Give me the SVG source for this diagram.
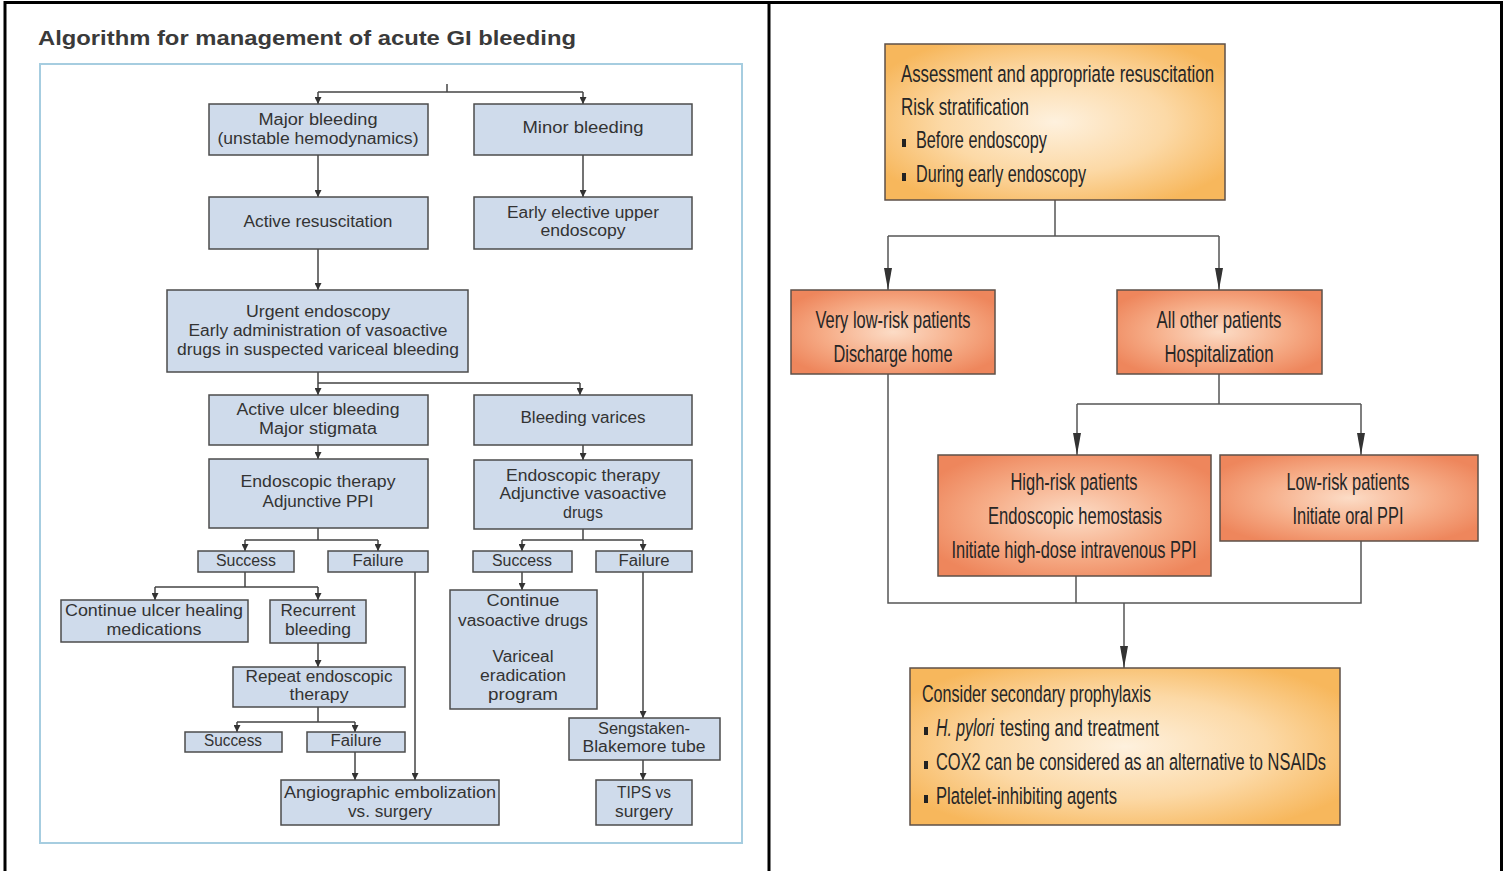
<svg xmlns="http://www.w3.org/2000/svg" width="1506" height="871" viewBox="0 0 1506 871">
<defs>
<style>
.frame{stroke:#000;stroke-width:3;fill:none}
.bf{fill:none;stroke:#a6cde0;stroke-width:2}
.lb{fill:#cfdbeb;stroke:#4c4c4c;stroke-width:1.5}
.lt{font-family:"Liberation Sans",Arial,sans-serif;font-size:16px;fill:#333;text-anchor:middle}
.title{font-family:"Liberation Sans",Arial,sans-serif;font-size:21px;font-weight:bold;fill:#3a3a3a}
.lc{fill:none;stroke:#444;stroke-width:1.5}
.rc{fill:none;stroke:#555;stroke-width:1.5}
.ob{fill:url(#gOr);stroke:#5e5048;stroke-width:1.5}
.sb{fill:url(#gSa);stroke:#5e5048;stroke-width:1.5}
.rt{font-family:"Liberation Sans",Arial,sans-serif;font-size:16.5px;fill:#262626}
.rtm{font-family:"Liberation Sans",Arial,sans-serif;font-size:16.5px;fill:#262626;text-anchor:middle}
.bul{fill:#222}
</style>
<radialGradient id="gOr" cx="0.5" cy="0.5" r="0.6">
<stop offset="0" stop-color="#fef1de"/>
<stop offset="0.55" stop-color="#fcd9a6"/>
<stop offset="1" stop-color="#f7b75c"/>
</radialGradient>
<radialGradient id="gSa" cx="0.5" cy="0.5" r="0.6">
<stop offset="0" stop-color="#fcdcc6"/>
<stop offset="0.55" stop-color="#f6ad88"/>
<stop offset="1" stop-color="#ee865c"/>
</radialGradient>
<marker id="aL" markerUnits="userSpaceOnUse" markerWidth="7" markerHeight="7" viewBox="0 0 7 7" refX="7" refY="3.5" orient="auto">
<path d="M0,0 L7,3.5 L0,7 z" fill="#333"/>
</marker>
<marker id="aR" markerUnits="userSpaceOnUse" markerWidth="22" markerHeight="9" viewBox="0 0 22 9" refX="22" refY="4.5" orient="auto">
<path d="M0,0.5 L22,4.5 L0,8.5 z" fill="#333"/>
</marker>
</defs>
<rect x="0" y="0" width="1506" height="871" fill="#fff"/>
<g id="frame">
<path class="frame" d="M5,871 V2.5 H1501.5 V871 M769,2.5 V871"/>
</g>
<text class="title" x="38" y="45" textLength="538" lengthAdjust="spacingAndGlyphs">Algorithm for management of acute GI bleeding</text>
<rect class="bf" x="40" y="64" width="702" height="779"/>

<g id="connectors-left">
<path class="lc" d="M447,84 V92"/>
<path class="lc" d="M318,92 H583"/>
<path class="lc" d="M318,92 V104" marker-end="url(#aL)"/>
<path class="lc" d="M583,92 V104" marker-end="url(#aL)"/>
<path class="lc" d="M318,155 V197" marker-end="url(#aL)"/>
<path class="lc" d="M583,155 V197" marker-end="url(#aL)"/>
<path class="lc" d="M318,249 V290" marker-end="url(#aL)"/>
<path class="lc" d="M318,372 V383 M318,383 H580"/>
<path class="lc" d="M318,383 V395" marker-end="url(#aL)"/>
<path class="lc" d="M580,383 V395" marker-end="url(#aL)"/>
<path class="lc" d="M318,445 V459" marker-end="url(#aL)"/>
<path class="lc" d="M583,445 V460" marker-end="url(#aL)"/>
<path class="lc" d="M318,528 V540 M245,540 H378"/>
<path class="lc" d="M245,540 V551" marker-end="url(#aL)"/>
<path class="lc" d="M378,540 V551" marker-end="url(#aL)"/>
<path class="lc" d="M583,529 V540 M522,540 H643"/>
<path class="lc" d="M522,540 V551" marker-end="url(#aL)"/>
<path class="lc" d="M643,540 V551" marker-end="url(#aL)"/>
<path class="lc" d="M245,572 V587 M155,587 H318"/>
<path class="lc" d="M155,587 V600" marker-end="url(#aL)"/>
<path class="lc" d="M318,587 V600" marker-end="url(#aL)"/>
<path class="lc" d="M415,572 V780" marker-end="url(#aL)"/>
<path class="lc" d="M318,643 V667" marker-end="url(#aL)"/>
<path class="lc" d="M318,707 V722 M237,722 H355"/>
<path class="lc" d="M237,722 V732" marker-end="url(#aL)"/>
<path class="lc" d="M355,722 V732" marker-end="url(#aL)"/>
<path class="lc" d="M355,752 V780" marker-end="url(#aL)"/>
<path class="lc" d="M522,572 V590" marker-end="url(#aL)"/>
<path class="lc" d="M643,572 V718" marker-end="url(#aL)"/>
<path class="lc" d="M643,760 V780" marker-end="url(#aL)"/>
</g>

<g id="major-bleeding">
<rect class="lb" x="209" y="104" width="219" height="51"/>
<text class="lt" x="318" y="125" textLength="119" lengthAdjust="spacingAndGlyphs">Major bleeding</text>
<text class="lt" x="318" y="144" textLength="201" lengthAdjust="spacingAndGlyphs">(unstable hemodynamics)</text>
</g>
<g id="minor-bleeding">
<rect class="lb" x="474" y="104" width="218" height="51"/>
<text class="lt" x="583" y="133" textLength="121" lengthAdjust="spacingAndGlyphs">Minor bleeding</text>
</g>
<g id="active-resuscitation">
<rect class="lb" x="209" y="197" width="219" height="52"/>
<text class="lt" x="318" y="227" textLength="149" lengthAdjust="spacingAndGlyphs">Active resuscitation</text>
</g>
<g id="early-elective">
<rect class="lb" x="474" y="197" width="218" height="52"/>
<text class="lt" x="583" y="218" textLength="152" lengthAdjust="spacingAndGlyphs">Early elective upper</text>
<text class="lt" x="583" y="236" textLength="85" lengthAdjust="spacingAndGlyphs">endoscopy</text>
</g>
<g id="urgent-endoscopy">
<rect class="lb" x="167" y="290" width="301" height="82"/>
<text class="lt" x="318" y="317" textLength="144" lengthAdjust="spacingAndGlyphs">Urgent endoscopy</text>
<text class="lt" x="318" y="336" textLength="259" lengthAdjust="spacingAndGlyphs">Early administration of vasoactive</text>
<text class="lt" x="318" y="355" textLength="282" lengthAdjust="spacingAndGlyphs">drugs in suspected variceal bleeding</text>
</g>
<g id="active-ulcer">
<rect class="lb" x="209" y="395" width="219" height="50"/>
<text class="lt" x="318" y="415" textLength="163" lengthAdjust="spacingAndGlyphs">Active ulcer bleeding</text>
<text class="lt" x="318" y="434" textLength="118" lengthAdjust="spacingAndGlyphs">Major stigmata</text>
</g>
<g id="bleeding-varices">
<rect class="lb" x="474" y="395" width="218" height="50"/>
<text class="lt" x="583" y="423" textLength="125" lengthAdjust="spacingAndGlyphs">Bleeding varices</text>
</g>
<g id="endo-ppi">
<rect class="lb" x="209" y="459" width="219" height="69"/>
<text class="lt" x="318" y="487" textLength="155" lengthAdjust="spacingAndGlyphs">Endoscopic therapy</text>
<text class="lt" x="318" y="507" textLength="111" lengthAdjust="spacingAndGlyphs">Adjunctive PPI</text>
</g>
<g id="endo-vaso">
<rect class="lb" x="474" y="460" width="218" height="69"/>
<text class="lt" x="583" y="481" textLength="154" lengthAdjust="spacingAndGlyphs">Endoscopic therapy</text>
<text class="lt" x="583" y="499" textLength="167" lengthAdjust="spacingAndGlyphs">Adjunctive vasoactive</text>
<text class="lt" x="583" y="518" textLength="40" lengthAdjust="spacingAndGlyphs">drugs</text>
</g>
<g id="success-1">
<rect class="lb" x="198" y="551" width="96" height="21"/>
<text class="lt" x="246" y="566" textLength="60" lengthAdjust="spacingAndGlyphs">Success</text>
</g>
<g id="failure-1">
<rect class="lb" x="328" y="551" width="100" height="21"/>
<text class="lt" x="378" y="566" textLength="51" lengthAdjust="spacingAndGlyphs">Failure</text>
</g>
<g id="success-2">
<rect class="lb" x="473" y="551" width="99" height="21"/>
<text class="lt" x="522" y="566" textLength="60" lengthAdjust="spacingAndGlyphs">Success</text>
</g>
<g id="failure-2">
<rect class="lb" x="596" y="551" width="96" height="21"/>
<text class="lt" x="644" y="566" textLength="51" lengthAdjust="spacingAndGlyphs">Failure</text>
</g>
<g id="continue-ulcer">
<rect class="lb" x="61" y="600" width="187" height="42"/>
<text class="lt" x="154" y="616" textLength="178" lengthAdjust="spacingAndGlyphs">Continue ulcer healing</text>
<text class="lt" x="154" y="635" textLength="95" lengthAdjust="spacingAndGlyphs">medications</text>
</g>
<g id="recurrent-bleeding">
<rect class="lb" x="270" y="600" width="96" height="43"/>
<text class="lt" x="318" y="616" textLength="75" lengthAdjust="spacingAndGlyphs">Recurrent</text>
<text class="lt" x="318" y="635" textLength="66" lengthAdjust="spacingAndGlyphs">bleeding</text>
</g>
<g id="repeat-endoscopic">
<rect class="lb" x="233" y="667" width="172" height="40"/>
<text class="lt" x="319" y="682" textLength="147" lengthAdjust="spacingAndGlyphs">Repeat endoscopic</text>
<text class="lt" x="319" y="700" textLength="59" lengthAdjust="spacingAndGlyphs">therapy</text>
</g>
<g id="success-3">
<rect class="lb" x="185" y="732" width="97" height="20"/>
<text class="lt" x="233" y="746" textLength="58" lengthAdjust="spacingAndGlyphs">Success</text>
</g>
<g id="failure-3">
<rect class="lb" x="307" y="732" width="98" height="20"/>
<text class="lt" x="356" y="746" textLength="51" lengthAdjust="spacingAndGlyphs">Failure</text>
</g>
<g id="angiographic">
<rect class="lb" x="281" y="780" width="218" height="45"/>
<text class="lt" x="390" y="798" textLength="212" lengthAdjust="spacingAndGlyphs">Angiographic embolization</text>
<text class="lt" x="390" y="817" textLength="84" lengthAdjust="spacingAndGlyphs">vs. surgery</text>
</g>
<g id="continue-vaso">
<rect class="lb" x="450" y="590" width="147" height="119"/>
<text class="lt" x="523" y="606" textLength="73" lengthAdjust="spacingAndGlyphs">Continue</text>
<text class="lt" x="523" y="626" textLength="130" lengthAdjust="spacingAndGlyphs">vasoactive drugs</text>
<text class="lt" x="523" y="662" textLength="61" lengthAdjust="spacingAndGlyphs">Variceal</text>
<text class="lt" x="523" y="681" textLength="86" lengthAdjust="spacingAndGlyphs">eradication</text>
<text class="lt" x="523" y="700" textLength="70" lengthAdjust="spacingAndGlyphs">program</text>
</g>
<g id="sengstaken">
<rect class="lb" x="569" y="718" width="151" height="42"/>
<text class="lt" x="644" y="734" textLength="92" lengthAdjust="spacingAndGlyphs">Sengstaken-</text>
<text class="lt" x="644" y="752" textLength="123" lengthAdjust="spacingAndGlyphs">Blakemore tube</text>
</g>
<g id="tips">
<rect class="lb" x="596" y="780" width="96" height="45"/>
<text class="lt" x="644" y="798" textLength="54" lengthAdjust="spacingAndGlyphs">TIPS vs</text>
<text class="lt" x="644" y="817" textLength="58" lengthAdjust="spacingAndGlyphs">surgery</text>
</g>

<g id="connectors-right">
<path class="rc" d="M1055,200 V236 M888,236 H1219"/>
<path class="rc" d="M888,236 V290" marker-end="url(#aR)"/>
<path class="rc" d="M1219,236 V290" marker-end="url(#aR)"/>
<path class="rc" d="M1219,374 V404 M1077,404 H1361"/>
<path class="rc" d="M1077,404 V455" marker-end="url(#aR)"/>
<path class="rc" d="M1361,404 V455" marker-end="url(#aR)"/>
<path class="rc" d="M888,374 V603 H1361 V541 M1076,576 V603"/>
<path class="rc" d="M1124,603 V668" marker-end="url(#aR)"/>
</g>

<g id="assessment">
<rect class="ob" x="885" y="44" width="340" height="156"/>
<text class="rt" x="901" y="82" transform="matrix(1 0 0 1.5 0 -41)" textLength="313" lengthAdjust="spacingAndGlyphs">Assessment and appropriate resuscitation</text>
<text class="rt" x="901" y="115" transform="matrix(1 0 0 1.5 0 -57.5)" textLength="128" lengthAdjust="spacingAndGlyphs">Risk stratification</text>
<rect class="bul" x="902" y="139" width="4" height="8"/>
<text class="rt" x="916" y="148" transform="matrix(1 0 0 1.5 0 -74)" textLength="131" lengthAdjust="spacingAndGlyphs">Before endoscopy</text>
<rect class="bul" x="902" y="173" width="4" height="8"/>
<text class="rt" x="916" y="182" transform="matrix(1 0 0 1.5 0 -91)" textLength="170" lengthAdjust="spacingAndGlyphs">During early endoscopy</text>
</g>
<g id="very-low-risk">
<rect class="sb" x="791" y="290" width="204" height="84"/>
<text class="rtm" x="893" y="328" transform="matrix(1 0 0 1.5 0 -164)" textLength="155" lengthAdjust="spacingAndGlyphs">Very low-risk patients</text>
<text class="rtm" x="893" y="362" transform="matrix(1 0 0 1.5 0 -181)" textLength="119" lengthAdjust="spacingAndGlyphs">Discharge home</text>
</g>
<g id="all-other">
<rect class="sb" x="1117" y="290" width="205" height="84"/>
<text class="rtm" x="1219" y="328" transform="matrix(1 0 0 1.5 0 -164)" textLength="125" lengthAdjust="spacingAndGlyphs">All other patients</text>
<text class="rtm" x="1219" y="362" transform="matrix(1 0 0 1.5 0 -181)" textLength="109" lengthAdjust="spacingAndGlyphs">Hospitalization</text>
</g>
<g id="high-risk">
<rect class="sb" x="938" y="455" width="273" height="121"/>
<text class="rtm" x="1074" y="490" transform="matrix(1 0 0 1.5 0 -245)" textLength="127" lengthAdjust="spacingAndGlyphs">High-risk patients</text>
<text class="rtm" x="1075" y="524" transform="matrix(1 0 0 1.5 0 -262)" textLength="174" lengthAdjust="spacingAndGlyphs">Endoscopic hemostasis</text>
<text class="rtm" x="1074" y="558" transform="matrix(1 0 0 1.5 0 -279)" textLength="245" lengthAdjust="spacingAndGlyphs">Initiate high-dose intravenous PPI</text>
</g>
<g id="low-risk">
<rect class="sb" x="1220" y="455" width="258" height="86"/>
<text class="rtm" x="1348" y="490" transform="matrix(1 0 0 1.5 0 -245)" textLength="123" lengthAdjust="spacingAndGlyphs">Low-risk patients</text>
<text class="rtm" x="1348" y="524" transform="matrix(1 0 0 1.5 0 -262)" textLength="111" lengthAdjust="spacingAndGlyphs">Initiate oral PPI</text>
</g>
<g id="prophylaxis">
<rect class="ob" x="910" y="668" width="430" height="157"/>
<text class="rt" x="922" y="702" transform="matrix(1 0 0 1.5 0 -351)" textLength="229" lengthAdjust="spacingAndGlyphs">Consider secondary prophylaxis</text>
<rect class="bul" x="924" y="727" width="4" height="8"/>
<text class="rt" x="936" y="736" font-style="italic" transform="matrix(1 0 0 1.5 0 -368)" textLength="58" lengthAdjust="spacingAndGlyphs">H. pylori</text>
<text class="rt" x="1000" y="736" transform="matrix(1 0 0 1.5 0 -368)" textLength="159" lengthAdjust="spacingAndGlyphs">testing and treatment</text>
<rect class="bul" x="924" y="761" width="4" height="8"/>
<text class="rt" x="936" y="770" transform="matrix(1 0 0 1.5 0 -385)" textLength="390" lengthAdjust="spacingAndGlyphs">COX2 can be considered as an alternative to NSAIDs</text>
<rect class="bul" x="924" y="795" width="4" height="8"/>
<text class="rt" x="936" y="804" transform="matrix(1 0 0 1.5 0 -402)" textLength="181" lengthAdjust="spacingAndGlyphs">Platelet-inhibiting agents</text>
</g>
</svg>
